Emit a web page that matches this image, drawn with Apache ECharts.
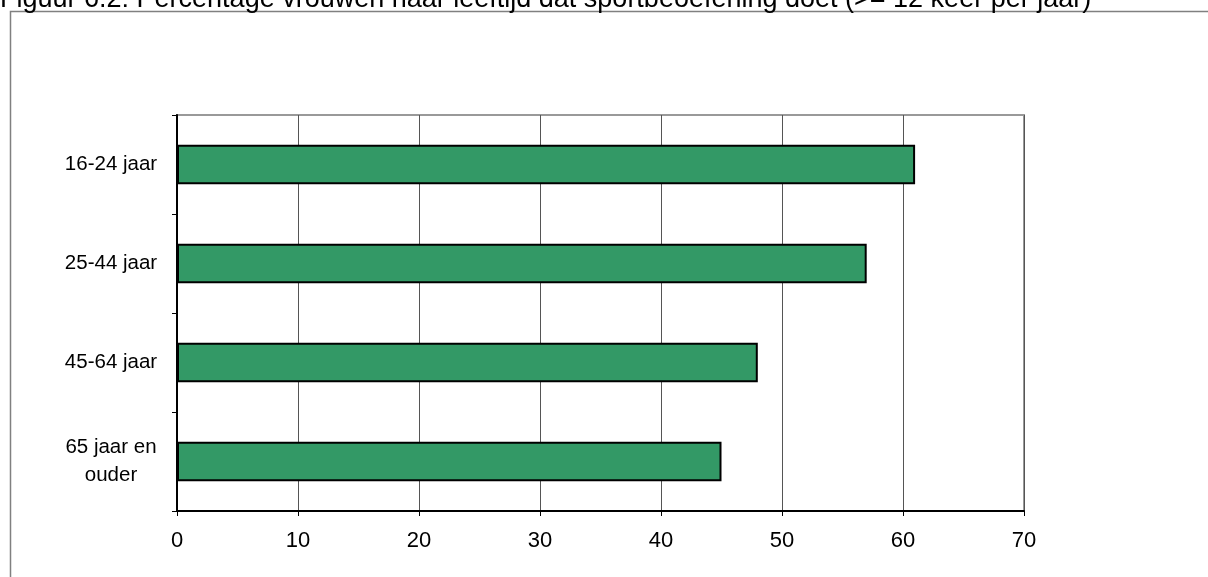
<!DOCTYPE html>
<html>
<head>
<meta charset="utf-8">
<script src="https://cdn.jsdelivr.net/npm/echarts@6/dist/echarts.min.js"></script>
<style>
html,body{margin:0;padding:0;background:#fff;}
#chart{width:1208px;height:577px;}
</style>
</head>
<body>
<div id="chart"></div>
<script>
const titleText = "Figuur 6.2: Percentage vrouwen naar leeftijd dat sportbeoefening doet (>= 12 keer per jaar)";
const categories = ["16-24 jaar", "25-44 jaar", "45-64 jaar", "65 jaar en\nouder"];
const values = [61, 57, 48, 45];
const xTicks = [0, 10, 20, 30, 40, 50, 60, 70];

const chart = echarts.init(document.getElementById('chart'), null, {renderer: 'canvas'});
const font = '"Liberation Sans", Arial, sans-serif';
chart.setOption({
  animation: false,
  backgroundColor: '#fff',
  graphic: [
    {type: 'rect', shape: {x: 10.5, y: 11.5, width: 1400, height: 800},
     style: {fill: 'none', stroke: '#808080', lineWidth: 1.5}, z: 0},
    {type: 'text', x: 0, y: 13, style: {text: titleText, fontSize: 27, fontFamily: font, fill: '#000', verticalAlign: 'bottom'}, z: 10}
  ],
  grid: {left: 177, right: 184, top: 115, bottom: 66, show: true,
         borderColor: '#999', borderWidth: 2, backgroundColor: 'transparent'},
  xAxis: {
    type: 'value', min: xTicks[0], max: xTicks[xTicks.length - 1], interval: 10,
    axisLine: {show: true, lineStyle: {color: '#000', width: 2}},
    axisTick: {show: true, length: 5, lineStyle: {color: '#000'}},
    splitLine: {show: true, lineStyle: {color: '#555', width: 1}},
    axisLabel: {color: '#000', fontSize: 22, fontFamily: font, margin: 19}
  },
  yAxis: {
    type: 'category', data: categories, inverse: true,
    axisLine: {show: true, lineStyle: {color: '#000', width: 2}},
    axisTick: {show: true, length: 5, interval: 0, lineStyle: {color: '#000'}},
    splitLine: {show: false},
    axisLabel: {color: '#000', fontSize: 20.5, fontFamily: font, align: 'center', margin: 66, lineHeight: 28}
  },
  series: [{
    type: 'bar', data: values, barWidth: '40%',
    itemStyle: {color: '#339966', borderColor: '#000', borderWidth: 2}
  }]
});
</script>
</body>
</html>
